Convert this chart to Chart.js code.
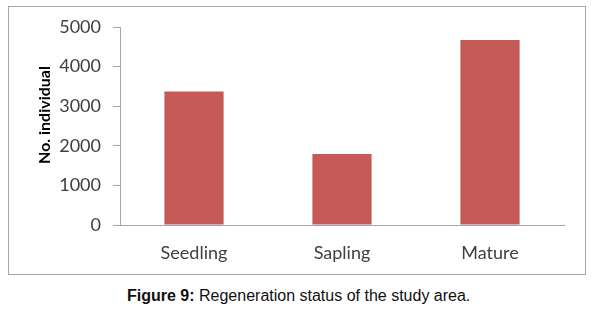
<!DOCTYPE html>
<html>
<head>
<meta charset="utf-8">
<script src="https://cdn.jsdelivr.net/npm/chart.js@4/dist/chart.umd.min.js"></script>
<style>
  html, body { margin: 0; padding: 0; background: #fff; }
  #wrap { position: relative; width: 592px; height: 319px; }
  #frame { position: absolute; left: 8px; top: 6px; width: 576px; height: 267px; border: 1px solid #a6a6a6; pointer-events: none; }
  #chart-box { position: absolute; left: 0; top: 0; width: 592px; height: 274px; }
  #caption { position: absolute; left: 127px; top: 287px; font-family: "Liberation Sans", Arial, sans-serif; font-size: 16px; color: #111; white-space: nowrap; }
</style>
</head>
<body>
<div id="wrap">
  <div id="chart-box"><canvas id="bar-regeneration"></canvas></div>
  <div id="frame"></div>
  <div id="caption"><b>Figure 9:</b> Regeneration status of the study area.</div>
</div>
<script>
const categories = ['Seedling', 'Sapling', 'Mature'];
const individuals = [3370, 1790, 4670];
const yTicks = [0, 1000, 2000, 3000, 4000, 5000];
const yTitle = 'No. individual';

const axisColor = '#a6a6a6';
const labelColor = '#404040';
const fontFamily = 'Lato, "Open Sans", sans-serif';

// y title drawn by hand so it sits where the original puts it
const yTitlePlugin = {
  id: 'yTitle',
  afterDraw(chart) {
    const ctx = chart.ctx;
    ctx.save();
    ctx.translate(45, 115);
    ctx.rotate(-Math.PI / 2);
    ctx.font = 'bold 16px ' + fontFamily;
    ctx.fillStyle = '#000';
    ctx.textAlign = 'center';
    ctx.textBaseline = 'middle';
    ctx.fillText(yTitle, 0, 0);
    ctx.restore();
  }
};

const configRegeneration = {
  type: 'bar',
  data: {
    labels: categories,
    datasets: [{
      data: individuals,
      backgroundColor: '#c55a57',
      categoryPercentage: 0.8,
      barPercentage: 0.5
    }]
  },
  options: {
    responsive: true,
    maintainAspectRatio: false,
    animation: false,
    layout: { padding: { left: 0, right: 28, top: 27, bottom: 0 } },
    plugins: {
      legend: { display: false },
      tooltip: { enabled: false }
    },
    scales: {
      x: {
        grid: { display: false, drawTicks: false },
        border: { color: axisColor, width: 1 },
        ticks: {
          color: labelColor,
          padding: 17,
          font: { family: fontFamily, size: 18 }
        },
        afterFit: (scale) => { scale.height = 49; }
      },
      y: {
        min: 0,
        max: 5000,
        afterBuildTicks: (scale) => { scale.ticks = yTicks.map(v => ({ value: v })); },
        grid: { drawOnChartArea: false, drawTicks: true, tickLength: 7, color: axisColor },
        border: { color: axisColor, width: 1 },
        ticks: {
          color: labelColor,
          padding: 12,
          callback: (value) => String(value),
          font: { family: fontFamily, size: 18 }
        },
        afterFit: (scale) => { scale.width = 120; }
      }
    }
  },
  plugins: [yTitlePlugin]
};

let barRegeneration = new Chart(document.getElementById('bar-regeneration'), configRegeneration);
</script>
</body>
</html>
